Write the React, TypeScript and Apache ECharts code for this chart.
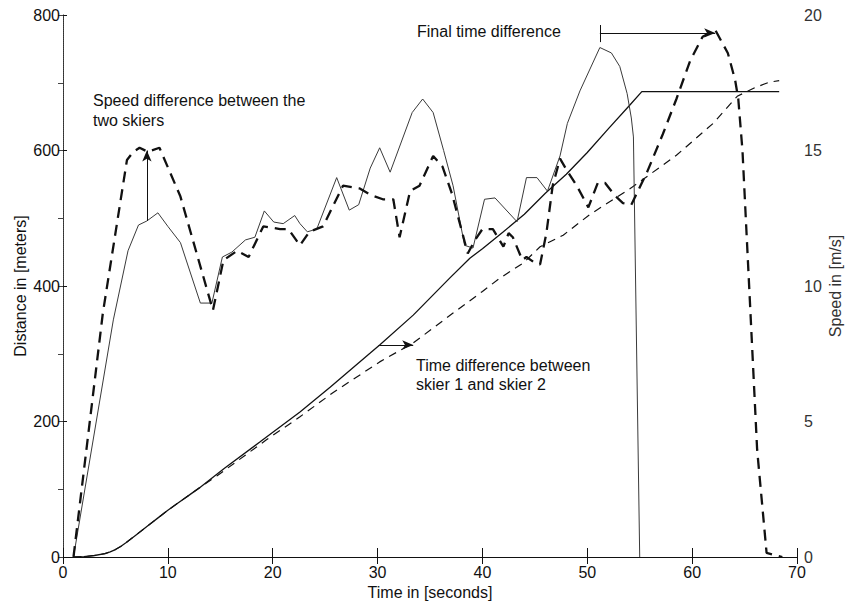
import React, { useEffect, useRef } from "react";
import * as echarts from "echarts";

// ---- Data ----
// Skier 1 speed (m/s) – thin solid line
const speed1T = [1, 4.8, 6.2, 7.2, 8.0, 9.05, 10.0, 11.2, 13.1, 14.2, 15.2, 16.1, 17.4, 18.3, 19.2, 20.1, 21, 22.1, 22.6, 23.3, 24.2, 26.1, 27.3, 28.2, 29.3, 30.2, 31.2, 33.3, 34.3, 35.3, 36.3, 37.2, 38.3, 39.1, 40.2, 41.2, 43.3, 44.2, 45.2, 46.2, 47.4, 48.1, 49.3, 51.2, 52.3, 53.1, 53.8, 54.2, 54.4, 55.0];
const speed1V = [0, 8.75, 11.3, 12.25, 12.4, 12.7, 12.2, 11.6, 9.37, 9.37, 11.07, 11.25, 11.7, 11.8, 12.77, 12.36, 12.3, 12.6, 12.3, 12.0, 12.1, 14.0, 12.8, 13.0, 14.35, 15.1, 14.2, 16.4, 16.9, 16.4, 15.0, 13.7, 11.5, 11.4, 13.2, 13.25, 12.37, 14.0, 14.0, 13.5, 14.8, 16.0, 17.2, 18.8, 18.6, 18.1, 17.1, 16.2, 15.5, 0];

// Skier 2 speed (m/s) – thick dashed line
const speed2T = [1, 3.8, 6.1, 6.7, 7.3, 8.1, 9.2, 11.2, 14.3, 15.3, 16.6, 17.7, 19.1, 20.7, 21.5, 22.6, 23.5, 24.8, 26.7, 28.3, 29.4, 30.5, 31.5, 32.1, 33.1, 34.0, 35.3, 36.2, 37.1, 38.6, 39.3, 40.0, 41.0, 42.0, 42.5, 42.9, 43.8, 44.2, 45.2, 45.5, 46.1, 46.7, 47.4, 48.0, 49.0, 50.1, 51.0, 51.7, 52.6, 53.4, 54.2, 54.7, 55.7, 57.2, 58.5, 59.8, 61.0, 62.2, 63.4, 64.1, 64.4, 64.8, 65.5, 66.2, 67.1, 68.6];
const speed2V = [0, 9.0, 14.65, 14.95, 15.1, 14.95, 15.1, 13.3, 9.1, 10.95, 11.3, 11.07, 12.2, 12.1, 12.1, 11.5, 12.0, 12.2, 13.7, 13.6, 13.35, 13.2, 13.2, 11.8, 13.5, 13.7, 14.8, 14.4, 13.4, 11.2, 11.7, 12.1, 12.1, 11.45, 11.95, 11.8, 10.96, 11.07, 10.8, 10.8, 11.95, 13.7, 14.7, 14.3, 13.7, 12.9, 13.8, 13.8, 13.35, 13.06, 13.0, 13.4, 14.2, 15.6, 16.9, 18.3, 19.2, 19.45, 18.6, 17.6, 16.9, 15.0, 9.5, 3.95, 0.15, 0];

// Skier 1 distance (m) – solid line
const dist1T = [1, 2, 3, 4, 4.5, 5, 5.5, 6, 7, 8, 9, 10, 11, 12, 13, 14, 15.4, 18.8, 22.6, 25.5, 29.3, 30.2, 33.4, 36.9, 38.8, 40, 42, 44, 46, 48, 50, 52, 54, 55.2, 68.3];
const dist1V = [0, 0.6, 2.2, 5, 7.5, 11, 15.5, 21, 33, 45, 57, 69, 80, 91, 102, 114, 131, 170, 214, 251, 301, 313, 357, 412, 441, 455, 480, 506, 537, 565, 597, 632, 666, 687, 687];

// Skier 2 distance (m) – thin dashed line
const dist2T = [1, 2, 3, 4, 4.5, 5, 5.5, 6, 7, 8, 9, 10, 11, 12, 13, 14.7, 19.4, 22.6, 25.7, 30.2, 33.4, 37.2, 40, 41.7, 43.9, 45.5, 47.7, 50.2, 54.3, 58.5, 62, 64.3, 66, 67.4, 68.3];
const dist2V = [0, 0.6, 2.2, 5, 7.5, 11, 15.5, 21, 33, 45, 57, 69, 80, 91, 102, 120, 173, 207, 242, 288, 316, 360, 392, 412, 434, 458, 475, 505, 546, 593, 640, 680, 693, 701, 703];

const xTicks = [0, 10, 20, 30, 40, 50, 60, 70];

const zip = (a: number[], b: number[]) => a.map((t, i) => [t, b[i]]);

const FONT = '"Liberation Sans", Arial, Helvetica, sans-serif';
const INK = "#111";

export default function App() {
  const ref = useRef<HTMLDivElement>(null);
  useEffect(() => {
    if (!ref.current) return;
    const chart = echarts.init(ref.current, null, { renderer: "svg" });
    const arrowLine = { color: INK, width: 1, type: "solid" as const };
    chart.setOption({
      animation: false,
      backgroundColor: "#fff",
      textStyle: { fontFamily: FONT },
      grid: { left: 63, right: 50, top: 15, bottom: 44, containLabel: false, outerBoundsMode: "none" },
      xAxis: [
        {
          type: "value",
          min: xTicks[0],
          max: xTicks[xTicks.length - 1],
          interval: 10,
          name: "Time in [seconds]",
          nameLocation: "middle",
          nameGap: 27,
          nameMoveOverlap: false,
          nameTextStyle: { fontSize: 16, color: INK, fontFamily: FONT },
          axisLine: { lineStyle: { color: INK, width: 1 } },
          axisTick: { inside: true, length: 9, lineStyle: { color: INK } },
          axisLabel: { fontSize: 16, color: INK, margin: 7, fontFamily: FONT },
          splitLine: { show: false },
        },
        {
          type: "value",
          position: "top",
          min: 0,
          max: 70,
          interval: 10,
          axisLine: { show: true, lineStyle: { color: INK, width: 1 } },
          axisTick: { inside: true, length: 7, lineStyle: { color: INK } },
          axisLabel: { show: false },
          splitLine: { show: false },
        },
      ],
      yAxis: [
        {
          type: "value",
          min: 0,
          max: 800,
          interval: 200,
          name: "Distance in [meters]",
          nameLocation: "middle",
          nameGap: 35,
          nameMoveOverlap: false,
          nameTextStyle: { fontSize: 16, color: INK, fontFamily: FONT },
          axisLine: { show: true, lineStyle: { color: INK, width: 1 } },
          axisTick: { show: true, inside: true, length: 4, lineStyle: { color: INK } },
          axisLabel: { fontSize: 16, color: INK, margin: 3, fontFamily: FONT },
          splitLine: { show: false },
        },
        {
          type: "value",
          position: "right",
          min: 0,
          max: 20,
          interval: 5,
          name: "Speed in [m/s]",
          nameLocation: "middle",
          nameGap: 30,
          nameRotate: 90,
          nameMoveOverlap: false,
          nameTextStyle: { fontSize: 16, color: "#333", fontFamily: FONT },
          axisLine: { show: true, lineStyle: { color: "#444", width: 1, type: "dotted" } },
          axisTick: { show: true, inside: true, length: 5, lineStyle: { color: "#444" } },
          minorTick: { show: true, splitNumber: 2, length: 5, lineStyle: { color: "#444" } },
          axisLabel: { fontSize: 16, color: "#333", margin: 7, fontFamily: FONT },
          splitLine: { show: false },
        },
      ],
      series: [
        {
          name: "Distance skier 1",
          type: "line",
          xAxisIndex: 0,
          yAxisIndex: 0,
          data: zip(dist1T, dist1V),
          showSymbol: false,
          lineStyle: { color: INK, width: 1.3 },
          markLine: {
            silent: true,
            symbol: ["none", "arrow"],
            symbolSize: [7, 11],
            label: { show: false },
            lineStyle: arrowLine,
            data: [[{ coord: [30.1, 313] }, { coord: [33.4, 313] }]],
          },
        },
        {
          name: "Distance skier 2",
          type: "line",
          xAxisIndex: 0,
          yAxisIndex: 0,
          data: zip(dist2T, dist2V),
          showSymbol: false,
          lineStyle: { color: INK, width: 1.2, type: [8, 6] },
        },
        {
          name: "Speed skier 1",
          type: "line",
          xAxisIndex: 0,
          yAxisIndex: 1,
          data: zip(speed1T, speed1V),
          showSymbol: false,
          lineStyle: { color: "#3a3a3a", width: 1 },
          markLine: {
            silent: true,
            symbol: ["none", "arrow"],
            symbolSize: [7, 11],
            label: { show: false },
            lineStyle: arrowLine,
            data: [
              [{ coord: [8.0, 12.4] }, { coord: [8.0, 15.0] }],
              [{ coord: [51.2, 19.34] }, { coord: [62.2, 19.34] }],
              [{ coord: [51.2, 19.63], symbol: "none" }, { coord: [51.2, 19.0], symbol: "none" }],
            ],
          },
        },
        {
          name: "Speed skier 2",
          type: "line",
          xAxisIndex: 0,
          yAxisIndex: 1,
          data: zip(speed2T, speed2V),
          showSymbol: false,
          lineStyle: { color: INK, width: 2.3, type: [11, 7] },
        },
      ],
      graphic: [
        {
          type: "text",
          left: 93,
          top: 90,
          style: {
            text: "Speed difference between the\ntwo skiers",
            fontSize: 16,
            lineHeight: 20,
            fill: INK,
            fontFamily: FONT,
          },
        },
        {
          type: "text",
          left: 417,
          top: 23,
          style: { text: "Final time difference", fontSize: 16, fill: INK, fontFamily: FONT },
        },
        {
          type: "text",
          left: 416,
          top: 356,
          style: {
            text: "Time difference between\nskier 1 and skier 2",
            fontSize: 16,
            lineHeight: 19,
            fill: INK,
            fontFamily: FONT,
          },
        },
      ],
    });
    return () => chart.dispose();
  }, []);
  return (
    <div
      ref={ref}
      style={{ position: "fixed", left: 0, top: 0, width: 847, height: 601, background: "#fff" }}
    />
  );
}
